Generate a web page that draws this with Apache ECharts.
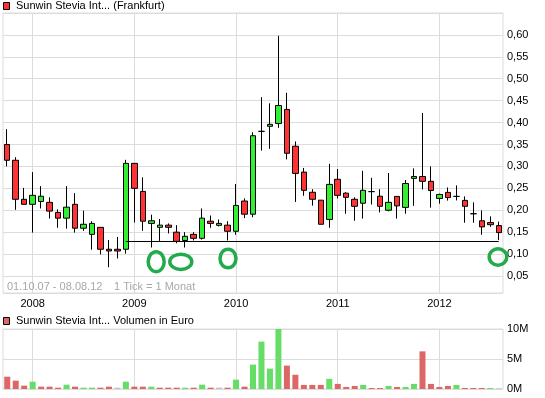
<!DOCTYPE html>
<html>
<head>
<meta charset="utf-8">
<script src="https://cdn.jsdelivr.net/npm/echarts@6/dist/echarts.min.js"></script>
<style>
  html, body { margin: 0; padding: 0; background: #fff; }
  #chart { width: 545px; height: 398px; }
</style>
</head>
<body>
<div id="chart"></div>
<script>
// monthly candles 01.10.07 - 08.08.12
const months = [
    '10.2007', '11.2007', '12.2007',
    '01.2008', '02.2008', '03.2008', '04.2008', '05.2008', '06.2008', '07.2008', '08.2008', '09.2008', '10.2008', '11.2008', '12.2008',
    '01.2009', '02.2009', '03.2009', '04.2009', '05.2009', '06.2009', '07.2009', '08.2009', '09.2009', '10.2009', '11.2009', '12.2009',
    '01.2010', '02.2010', '03.2010', '04.2010', '05.2010', '06.2010', '07.2010', '08.2010', '09.2010', '10.2010', '11.2010', '12.2010',
    '01.2011', '02.2011', '03.2011', '04.2011', '05.2011', '06.2011', '07.2011', '08.2011', '09.2011', '10.2011', '11.2011', '12.2011',
    '01.2012', '02.2012', '03.2012', '04.2012', '05.2012', '06.2012', '07.2012', '08.2012'
];
const opens = [
    0.350, 0.314, 0.225,
    0.2135, 0.220, 0.218, 0.195, 0.182, 0.2135, 0.159, 0.145, 0.161, 0.111, 0.111, 0.111,
    0.307, 0.243, 0.170, 0.161, 0.166, 0.150, 0.131, 0.145, 0.136, 0.175, 0.1656, 0.166,
    0.152, 0.221, 0.191, 0.380, 0.3915, 0.398, 0.430, 0.346, 0.287, 0.241, 0.223, 0.179,
    0.2706, 0.239, 0.225, 0.216, 0.2425, 0.232, 0.200, 0.2316, 0.2065, 0.2727, 0.277, 0.266,
    0.227, 0.2407, 0.2316, 0.2225, 0.192, 0.176, 0.172, 0.165
];
const closes = [
    0.314, 0.225, 0.2135,
    0.234, 0.232, 0.198, 0.182, 0.207, 0.159, 0.168, 0.170, 0.111, 0.107, 0.107, 0.307,
    0.250, 0.175, 0.176, 0.166, 0.161, 0.129, 0.1405, 0.136, 0.182, 0.170, 0.170, 0.152,
    0.211, 0.191, 0.370, 0.380, 0.396, 0.439, 0.330, 0.284, 0.2455, 0.225, 0.168, 0.259,
    0.234, 0.2295, 0.209, 0.2455, 0.2425, 0.209, 0.218, 0.210, 0.261, 0.277, 0.266, 0.245,
    0.236, 0.229, 0.2316, 0.209, 0.192, 0.162, 0.167, 0.149
];
const lows = [
    0.300, 0.201, 0.2135,
    0.149, 0.204, 0.181, 0.160, 0.158, 0.149, 0.153, 0.110, 0.099, 0.070, 0.090, 0.101,
    0.172, 0.153, 0.115, 0.130, 0.147, 0.1245, 0.115, 0.131, 0.133, 0.160, 0.163, 0.131,
    0.144, 0.182, 0.184, 0.336, 0.340, 0.388, 0.316, 0.219, 0.233, 0.2105, 0.168, 0.160,
    0.227, 0.192, 0.176, 0.181, 0.213, 0.195, 0.1976, 0.181, 0.192, 0.210, 0.2476, 0.206,
    0.215, 0.222, 0.2224, 0.1715, 0.1715, 0.144, 0.162, 0.132
];
const highs = [
    0.385, 0.321, 0.251,
    0.287, 0.255, 0.2295, 0.202, 0.255, 0.239, 0.199, 0.175, 0.161, 0.132, 0.139, 0.315,
    0.307, 0.275, 0.190, 0.180, 0.170, 0.166, 0.150, 0.150, 0.204, 0.188, 0.179, 0.175,
    0.260, 0.227, 0.378, 0.458, 0.444, 0.598, 0.468, 0.357, 0.2965, 0.248, 0.223, 0.306,
    0.294, 0.241, 0.2295, 0.290, 0.274, 0.248, 0.285, 0.232, 0.269, 0.2955, 0.422, 0.300,
    0.238, 0.252, 0.2567, 0.2316, 0.218, 0.1996, 0.186, 0.174
];
// volume in million euro
const volumes = [
    2.05, 1.39, 0.56,
    1.22, 0.39, 0.39, 0.22, 0.72, 0.39, 0.22, 0.22, 0.22, 0.39, 0.22, 1.22,
    0.39, 0.39, 0.39, 0.22, 0.22, 0.22, 0.22, 0.22, 0.72, 0.22, 0.22, 0.22,
    1.56, 0.39, 4.06, 7.9, 3.4, 10.0, 3.9, 2.37, 0.68, 0.68, 0.68, 1.69,
    0.85, 0.34, 0.51, 0.68, 0.17, 0.17, 0.51, 0.34, 0.34, 0.85, 6.27, 0.85,
    0.34, 0.51, 0.68, 0.17, 0.17, 0.17, 0.17, 0.05
];
const supportLevel = 0.1287;
const supportFrom = '12.2008';
const supportTo = '08.2012';

const FONT = 'Liberation Sans';
const gridColor = '#dcdcdc';

const candles = months.map((m, i) => [opens[i], closes[i], lows[i], highs[i]]);
const januaries = months.filter(m => m.startsWith('01.'));

// volume colour: close vs previous close
const volData = volumes.map((v, i) => {
    let col;
    if (i == 0) {
        col = closes[0] < opens[0] ? '#dd6666' : '#66dd66';
    } else if (closes[i] > closes[i - 1]) {
        col = '#66dd66';
    } else if (closes[i] < closes[i - 1]) {
        col = '#dd6666';
    } else {
        col = '#c0c0c0';
    }
    return { value: v, itemStyle: { color: col } };
});

function priceLabel(v) {
    if (v > 0.645) return '';
    const k = v / 0.05;
    if (Math.abs(k - Math.round(k)) > 1e-6) return '';
    return v.toFixed(2).replace('.', ',');
}

const chart = echarts.init(document.getElementById('chart'), null, { renderer: 'canvas' });

chart.setOption({
    animation: false,
    textStyle: { fontFamily: FONT },
    grid: [
        { left: 3, right: 42, top: 13, bottom: 105, show: true, borderColor: gridColor, borderWidth: 1 },
        { left: 3, right: 42, top: 329, bottom: 9, show: true, borderColor: gridColor, borderWidth: 1 }
    ],
    xAxis: [
        {
            type: 'category', gridIndex: 0, data: months, boundaryGap: true,
            axisLine: { show: false }, axisTick: { show: false }, splitLine: { show: false },
            axisLabel: {
                interval: (i, v) => v.startsWith('01.'),
                formatter: v => v.slice(3),
                color: '#000', fontSize: 11, fontFamily: FONT, margin: 5
            }
        },
        {
            type: 'category', gridIndex: 1, data: months, boundaryGap: true,
            axisLine: { show: false }, axisTick: { show: false }, axisLabel: { show: false },
            splitLine: { show: false }
        }
    ],
    yAxis: [
        {
            type: 'value', gridIndex: 0, position: 'right', min: 0.0112, max: 0.65, splitNumber: 13,
            axisLine: { show: false }, axisTick: { show: false },
            splitLine: { lineStyle: { color: gridColor, width: 1 } },
            axisLabel: { formatter: priceLabel, color: '#000', fontSize: 11, fontFamily: FONT, margin: 4 }
        },
        {
            type: 'value', gridIndex: 1, position: 'right', min: 0, max: 10, interval: 5,
            axisLine: { show: false }, axisTick: { show: false },
            splitLine: { lineStyle: { color: gridColor, width: 1 } },
            axisLabel: { formatter: v => v + 'M', color: '#000', fontSize: 11, fontFamily: FONT, margin: 4 }
        }
    ],
    series: [
        {
            // year grid lines (price)
            type: 'line', xAxisIndex: 0, yAxisIndex: 0, data: [], z: 1,
            markLine: {
                silent: true, z: 1, symbol: ['none', 'none'], label: { show: false },
                lineStyle: { color: gridColor, width: 1, type: 'solid' },
                data: januaries.map(m => ({ xAxis: m }))
            }
        },
        {
            type: 'candlestick', xAxisIndex: 0, yAxisIndex: 0, data: candles, barWidth: 6, z: 3,
            itemStyle: {
                color: '#33ee33', color0: '#ff3333',
                borderColor: '#000', borderColor0: '#000', borderColorDoji: '#000', borderWidth: 1
            }
        },
        {
            // support line
            type: 'line', xAxisIndex: 0, yAxisIndex: 0, z: 4,
            data: [[supportFrom, supportLevel], [supportTo, supportLevel]],
            symbol: 'none', silent: true,
            lineStyle: { color: '#000', width: 1 }
        },
        {
            // year grid lines (volume)
            type: 'line', xAxisIndex: 1, yAxisIndex: 1, data: [], z: 1,
            markLine: {
                silent: true, z: 1, symbol: ['none', 'none'], label: { show: false },
                lineStyle: { color: gridColor, width: 1, type: 'solid' },
                data: januaries.map(m => ({ xAxis: m }))
            }
        },
        {
            type: 'bar', xAxisIndex: 1, yAxisIndex: 1, data: volData, barWidth: 6, z: 3
        }
    ],
    graphic: [
        { type: 'rect', shape: { x: 3.5, y: 2.5, width: 6, height: 7 }, style: { fill: '#ff3333', stroke: '#000', lineWidth: 1 } },
        { type: 'text', x: 16, y: 6, style: { text: 'Sunwin Stevia Int... (Frankfurt)', font: '11px "' + FONT + '"', fill: '#000', textVerticalAlign: 'middle' } },
        { type: 'rect', shape: { x: 3.5, y: 317.5, width: 6, height: 7 }, style: { fill: '#dd6666', stroke: '#000', lineWidth: 1 } },
        { type: 'text', x: 16, y: 321, style: { text: 'Sunwin Stevia Int... Volumen in Euro', font: '11px "' + FONT + '"', fill: '#000', textVerticalAlign: 'middle' } },
        { type: 'text', x: 7, y: 287, z: 10, style: { text: '01.10.07 - 08.08.12', font: '11px "' + FONT + '"', fill: '#a8a8a8', textVerticalAlign: 'middle' } },
        { type: 'text', x: 114, y: 287, z: 10, style: { text: '1 Tick = 1 Monat', font: '11px "' + FONT + '"', fill: '#a8a8a8', textVerticalAlign: 'middle' } },
        // hand-drawn green circles
        { type: 'ellipse', z: 20, shape: { cx: 156.2, cy: 261.7, rx: 8, ry: 10 }, style: { fill: 'none', stroke: '#22aa4c', lineWidth: 3.5 } },
        { type: 'ellipse', z: 20, shape: { cx: 180.8, cy: 261.8, rx: 11, ry: 7.6 }, style: { fill: 'none', stroke: '#22aa4c', lineWidth: 3.5 } },
        { type: 'ellipse', z: 20, shape: { cx: 228, cy: 258.5, rx: 8, ry: 9.3 }, style: { fill: 'none', stroke: '#22aa4c', lineWidth: 3.5 } },
        { type: 'ellipse', z: 20, shape: { cx: 498, cy: 257, rx: 8.8, ry: 8.2 }, style: { fill: 'none', stroke: '#22aa4c', lineWidth: 3.5 } }
    ]
});
</script>
</body>
</html>
